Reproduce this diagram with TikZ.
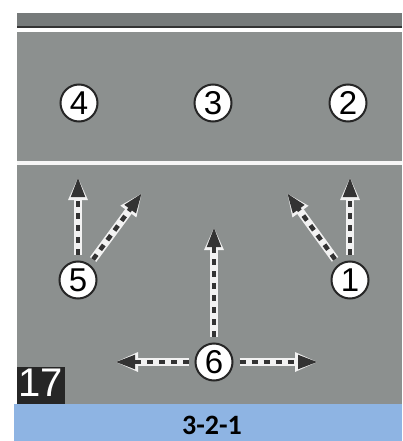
\documentclass[tikz,border=0pt]{standalone}
\usepackage{fontspec}
\setsansfont{Liberation Sans}
\newfontfamily\captionfont{Carlito}
\usetikzlibrary{positioning,arrows.meta}
\definecolor{court}{RGB}{140,144,143}
\definecolor{band}{RGB}{118,122,122}
\definecolor{capblue}{RGB}{142,180,227}

\begin{document}
\begin{tikzpicture}[x=1pt, y=-1pt,
  player/.style={circle, draw=black!85, line width=2pt, fill=white, minimum size=37pt,
                 inner sep=0pt, font=\sffamily\fontsize{33}{33}\selectfont},
  numbox/.style={fill=black!85, text=white, minimum width=48pt, minimum height=37pt, inner sep=0pt,
                 text height=28.6pt, text depth=6pt, font=\sffamily\fontsize{40}{40}\selectfont},
  arr/.style={-{Triangle[length=20pt,width=13pt]}, line width=4.5pt, draw=black!80,
              dash pattern=on 6pt off 6pt, shorten <=6pt,
              preaction={draw=white!95!black, solid, line width=8pt,
                         -{Triangle[length=23pt,width=18pt]}, shorten <=6pt}}
]
\useasboundingbox (0,0) rectangle (402,441);
% Court
\fill[white] (0,0) rectangle (402,441);
\fill[court] (17,13) rectangle (402,404);
\fill[band] (17,13) rectangle (402,27);
\draw[black!80, line width=1.5pt] (17,27) -- (402,27);
\fill[white] (17,28.5) rectangle (402,32);
\fill[white!92!court] (17,161) rectangle (402,165);

% Figure number and caption
\node[numbox] (fignum) at (41,385.5) {17};
\fill[capblue] (14,404) rectangle (402,441);
\node[font=\captionfont\bfseries\fontsize{28}{28}\selectfont] (caption) at (212,425) {3-2-1};

% Players
\node[player] (p4) at (79,103) {4};
\node[player] (p3) at (213,103) {3};
\node[player] (p2) at (348,103) {2};
\node[player] (p5) at (78,280) {5};
\node[player] (p1) at (350,280) {1};
\node[player] (p6) at (214,362) {6};

% Arrow tips
\coordinate (t5up) at (78,177);
\coordinate (t5diag) at (142,193);
\coordinate (t1up) at (350,177);
\coordinate (t1diag) at (287,193);
\coordinate (t6up) at (214,227);
\coordinate (t6left) at (115,362);
\coordinate (t6right) at (318,362);

% Arrows
\draw[arr] (p5) -- (t5up);
\draw[arr] (p5) -- (t5diag);
\draw[arr] (p1) -- (t1up);
\draw[arr] (p1) -- (t1diag);
\draw[arr] (p6) -- (t6up);
\draw[arr] (p6) -- (t6left);
\draw[arr] (p6) -- (t6right);
\end{tikzpicture}
\end{document}
